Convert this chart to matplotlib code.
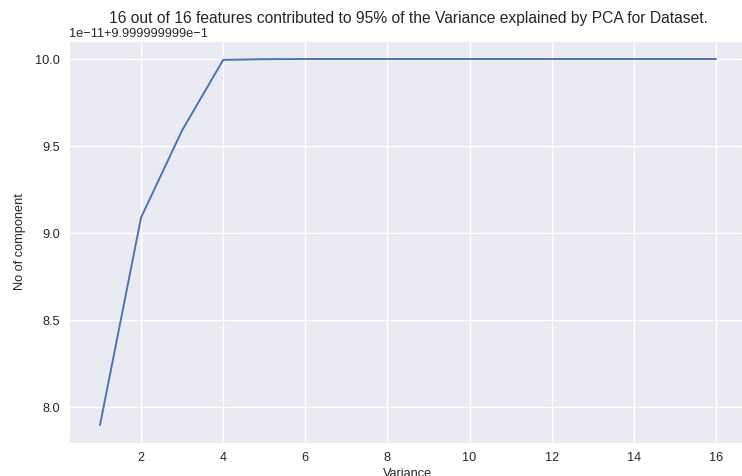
import matplotlib
matplotlib.use("Agg")
import matplotlib.pyplot as plt
import seaborn as sns
import numpy as np

components = list(range(1, 17))
# cumulative explained variance, as offset from 0.9999999999 in units of 1e-11
offset_units = [7.896, 9.089, 9.59, 9.995, 9.999, 10.0, 10.0, 10.0, 10.0, 10.0, 10.0, 10.0, 10.0, 10.0, 10.0, 10.0]
base = 0.9999999999
cum_var = [base + d * 1e-11 for d in offset_units]

sns.set_style("darkgrid")
plt.rcParams['font.family'] = ['Liberation Sans', 'DejaVu Sans']
plt.rcParams['grid.linewidth'] = 1.1

DPI = 92
fig = plt.figure(figsize=(742 / DPI, 476 / DPI), dpi=DPI)
ax = fig.add_axes([69.2 / 742, 1 - 443.4 / 476, (746.8 - 69.2) / 742, (443.4 - 40.7) / 476])
ax.plot(components, cum_var, color="#4C72B0", linewidth=1.5)
ax.set_title("16 out of 16 features contributed to 95% of the Variance explained by PCA for Dataset.",
             fontsize=12.25, pad=4)
ax.set_xlabel("Variance", labelpad=3)
ax.set_ylabel("No of component", labelpad=7)
fig.savefig("out.png", dpi=DPI)
